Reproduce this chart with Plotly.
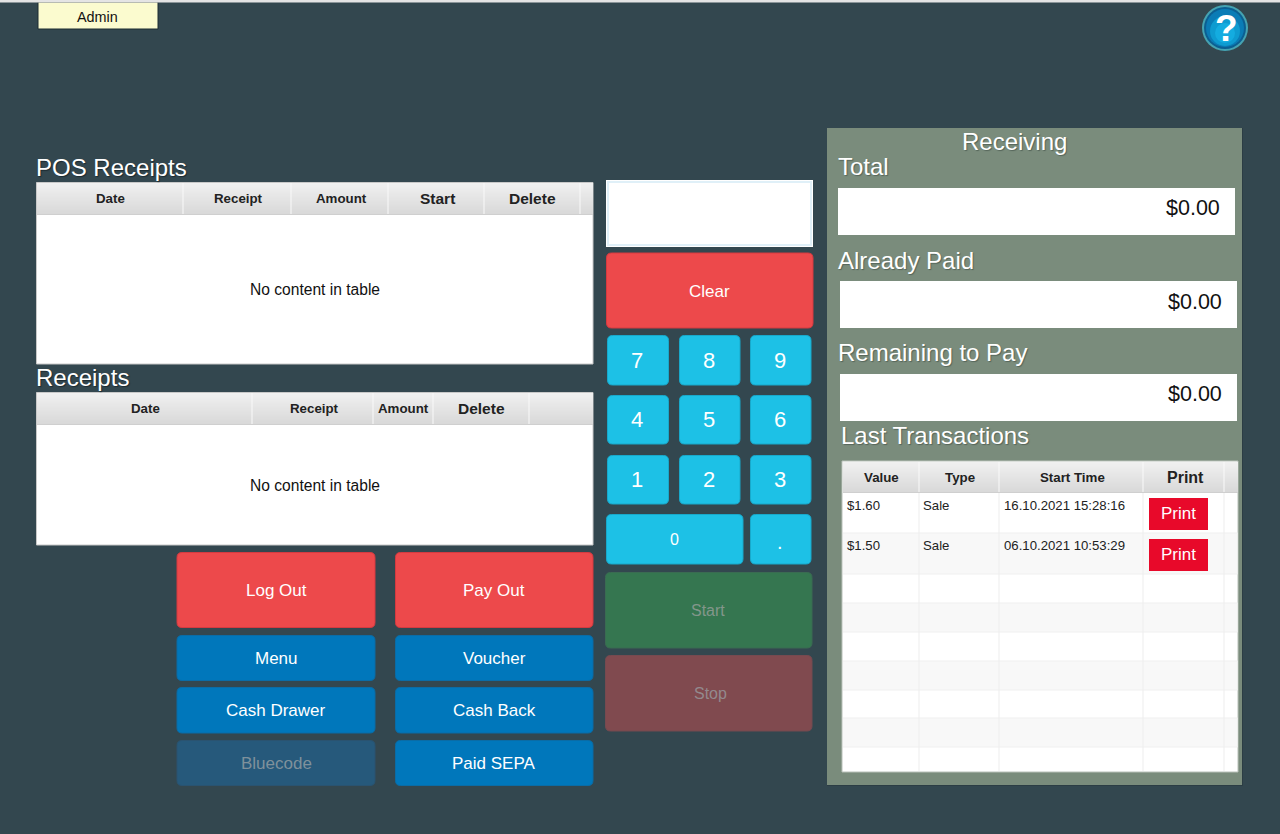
import plotly.graph_objects as go

FONT = "Liberation Sans, Arial, sans-serif"

# text content
user_name = "Admin"
pos_headers = ["Date", "Receipt", "Amount", "Start", "Delete"]
receipt_headers = ["Date", "Receipt", "Amount", "Delete"]
empty_text = "No content in table"
keypad_keys = ["7", "8", "9", "4", "5", "6", "1", "2", "3"]
left_buttons = ["Menu", "Cash Drawer"]
right_buttons = ["Voucher", "Cash Back", "Paid SEPA"]
summary_labels = ["Total", "Already Paid", "Remaining to Pay"]
summary_values = ["$0.00", "$0.00", "$0.00"]
tx_headers = ["Value", "Type", "Start Time", "Print"]
tx_values = ["$1.60", "$1.50"]
tx_types = ["Sale", "Sale"]
tx_times = ["16.10.2021 15:28:16", "06.10.2021 10:53:29"]

BG = "#33474f"
RED = "#ed494b"
BLUE = "#0077bb"
CYAN = "#1dc1e6"

fig = go.Figure()


def rect(x0, y0, x1, y1, fill, line=None, width=1):
    fig.add_shape(type="rect", x0=x0, y0=y0, x1=x1, y1=y1, fillcolor=fill,
                  line=dict(color=line or fill, width=width if line else 0), layer="above")


def text(x, y, s, size=17, color="white", anchor="center", bold=False, shadow=None):
    font = dict(family=FONT, size=size, color=color, weight="bold" if bold else "normal")
    if shadow:
        font["shadow"] = shadow
    if anchor == "left":
        x -= 1
    fig.add_annotation(x=x, y=y, text=s, showarrow=False, font=font,
                       xanchor=anchor, yanchor="middle", borderpad=0)


def button(x0, y0, x1, y1, label, fill, edge, size=17, color="white", dx=0, dy=0):
    r = 5
    path = (f"M {x0+r} {y0} L {x1-r} {y0} Q {x1} {y0} {x1} {y0+r} L {x1} {y1-r} "
            f"Q {x1} {y1} {x1-r} {y1} L {x0+r} {y1} Q {x0} {y1} {x0} {y1-r} "
            f"L {x0} {y0+r} Q {x0} {y0} {x0+r} {y0} Z")
    fig.add_shape(type="path", path=path, fillcolor=fill,
                  line=dict(color=edge, width=1), layer="above")
    text((x0 + x1) / 2 + dx, (y0 + y1) / 2 + dy, label, size=size, color=color)


def header_band(x0, x1, y0, y1, seps):
    # grey gradient, one strip per pixel row
    steps = y1 - y0
    for i in range(steps):
        g = 240 - i * 24 / steps
        c = f"rgb({g:.0f},{g:.0f},{g:.0f})"
        rect(x0, y0 + i, x1, y0 + i + 1, c)
    rect(x0, y1, x1, y1 + 1, "#cfcfcf")
    for s in seps:
        rect(s - 0.5, y0, s + 0.5, y1, "#fafafa")


def title(x, y, s, size=24):
    text(x, y, s, size=size, anchor="left", shadow="1px 1px 1px #1c2a30")


# user tab
rect(38, 2, 158, 29, "#fbfbcf", "#1d2c33", 1)
text(97, 17, user_name, size=14.4, color="#111111")

# page top strip
rect(0, 0, 1280, 2.6, "#e4e4e4")

# help icon
for cy, radius, col in [(28, 23, "#45a3b2"), (28, 21, "#0b5f92"), (28, 19, "#0a7cb6"),
                        (31, 15, "#0e9bd0"), (33, 10, "#14ace0")]:
    fig.add_shape(type="circle", x0=1225 - radius, y0=cy - radius, x1=1225 + radius,
                  y1=cy + radius, fillcolor=col, line=dict(width=0), layer="above")
text(1226, 28, "?", size=37, bold=True)

# POS receipts table
title(36, 167, "POS Receipts")
rect(36.5, 182.5, 593, 364, "white", "#c8c8c8", 1)
pos_seps = [183, 291, 388, 484, 580]
header_band(37, 593, 183, 214, pos_seps)
pos_centers = [110, 238, 341, 437, 532]
pos_sizes = [13.3, 13.3, 13.3, 15.5, 15.5]
for cx, h, sz in zip(pos_centers, pos_headers, pos_sizes):
    text(cx, 198.5, h, size=sz, color="#222222", bold=True)
text(315, 289, empty_text, size=15.6, color="#111111")

# receipts table
title(36, 377, "Receipts")
rect(36.5, 392.5, 593, 545, "white", "#c8c8c8", 1)
rec_seps = [252, 373, 433, 529]
header_band(37, 593, 393, 424, rec_seps)
rec_centers = [145, 314, 403, 481]
rec_sizes = [13.3, 13.3, 13.3, 15.5]
for cx, h, sz in zip(rec_centers, receipt_headers, rec_sizes):
    text(cx, 408.5, h, size=sz, color="#222222", bold=True)
text(315, 485, empty_text, size=15.6, color="#111111")

# left action buttons
button(177, 552.5, 375, 627.5, "Log Out", RED, "#d63a40")
button(395.5, 552.5, 593, 627.5, "Pay Out", RED, "#d63a40")
for (y0, y1), label in zip([(635.5, 680.5), (687.5, 733)], left_buttons):
    button(177, y0, 375, y1, label, BLUE, "#0a6ca6")
button(177, 740.5, 375, 785.5, "Bluecode", "#26597b", "#2a5370", color="#7f919b")
for (y0, y1), label in zip([(635.5, 680.5), (687.5, 733), (740.5, 785.5)], right_buttons):
    button(395.5, y0, 593, y1, label, BLUE, "#0a6ca6")

# keypad column
rect(606, 180, 813, 247, "white")
rect(608, 182, 811, 245, "white", "#e0f0f8", 2)
button(606.5, 253, 813, 328, "Clear", RED, "#d63a40", dy=1)
key_cols = [(607.5, 668.5), (679.5, 740), (750.5, 811)]
key_rows = [(335.5, 385), (395.5, 444), (455.5, 504)]
k = 0
for y0, y1 in key_rows:
    for x0, x1 in key_cols:
        button(x0, y0, x1, y1, keypad_keys[k], CYAN, "#18a9cb", size=22, dx=-0.7)
        k += 1
button(606.5, 514.5, 743, 564, "0", CYAN, "#18a9cb", size=16)
button(750.5, 514.5, 811, 564, ".", CYAN, "#18a9cb", size=20, dx=-0.5, dy=3)
button(605.5, 572.5, 812, 648, "Start", "#357650", "#3a6b52", size=16, color="#83968b", dx=-0.5)
button(605.5, 655.5, 812, 731, "Stop", "#804a4f", "#754a50", size=16, color="#93898d", dx=1.5)

# receiving panel
rect(1242, 128, 1243, 786, "#2c3d44")
rect(827, 785, 1243, 786, "#2c3d44")
rect(827, 128, 1242, 785, "#7a8c7c")
text(1014, 141, "Receiving", size=24, shadow="1px 1px 1px #55655a")
label_pos = [(838, 166), (838, 260), (838, 352)]
box_pos = [(838, 188, 1235, 235), (840, 281, 1237, 328), (840, 374, 1237, 421)]
value_y = [208, 302, 394]
for (lx, ly), lab, (x0, y0, x1, y1), val, vy in zip(label_pos, summary_labels, box_pos,
                                                    summary_values, value_y):
    text(lx, ly, lab, size=24, shadow="1px 1px 1px #55655a", anchor="left")
    rect(x0, y0, x1, y1, "white")
    text(x1 - 14, vy, val, size=21.5, color="#111111", anchor="right")
text(841, 435, "Last Transactions", size=24, shadow="1px 1px 1px #55655a", anchor="left")

# transactions table
rect(842, 461, 1238, 772, "white", "#b8c0b8", 1)
tx_seps = [919, 999, 1143, 1224]
header_band(843, 1238, 462, 492, tx_seps)
tx_centers = [881, 960, 1072, 1185]
tx_sizes = [13.3, 13.3, 13.3, 16]
for cx, h, sz in zip(tx_centers, tx_headers, tx_sizes):
    text(cx, 477.5, h, size=sz, color="#222222", bold=True)

row_edges = [493, 533, 574, 603, 632, 661, 690, 718, 747, 771]
for i in range(len(row_edges) - 1):
    if i % 2 == 1:
        rect(843, row_edges[i], 1237.5, row_edges[i + 1], "#f8f8f8")
    if i > 0:
        rect(843, row_edges[i] - 0.5, 1237.5, row_edges[i] + 0.5, "#efefef")
for s in tx_seps:
    rect(s - 0.5, 493, s + 0.5, 771, "#eeeeee")

print_tops = [498, 539]
for i in range(len(tx_values)):
    y = row_edges[i] + 12
    text(847, y, tx_values[i], size=13.2, color="#222222", anchor="left")
    text(923, y, tx_types[i], size=13.2, color="#222222", anchor="left")
    text(1004, y, tx_times[i], size=13.2, color="#222222", anchor="left")
    y0 = print_tops[i]
    rect(1149, y0, 1208, y0 + 32, "#e8092a")
    text(1178.5, y0 + 15, "Print", size=17)

fig.update_layout(
    width=1280,
    height=834,
    margin=dict(l=0, r=0, t=0, b=0),
    paper_bgcolor=BG,
    plot_bgcolor=BG,
    showlegend=False,
    xaxis=dict(range=[0, 1280], visible=False, fixedrange=True),
    yaxis=dict(range=[834, 0], visible=False, fixedrange=True),
)

fig.write_html(
    "out.html",
    config={"displayModeBar": False},
    post_script="document.body.style.margin='0';document.body.style.overflow='hidden';",
)
